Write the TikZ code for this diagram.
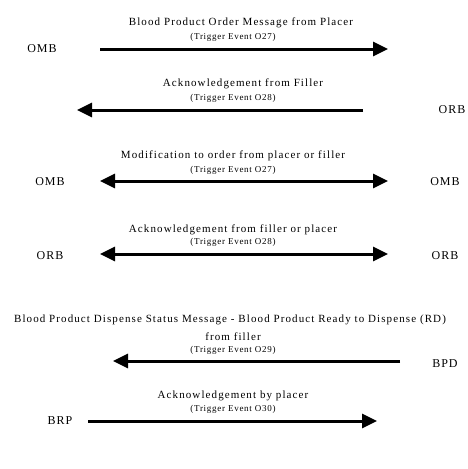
\documentclass[tikz,border=0pt]{standalone}
\usepackage{fontspec}
\setmainfont{Liberation Serif}
\usetikzlibrary{arrows.meta}
\begin{document}
\begin{tikzpicture}[x=1pt,y=-1pt,
  msg/.style={font=\fontsize{11}{12}\selectfont\addfontfeature{LetterSpace=10}, inner sep=0pt},
  trig/.style={font=\fontsize{9}{10}\selectfont\addfontfeature{LetterSpace=8}, inner sep=0pt},
  party/.style={font=\fontsize{12}{13}\selectfont\addfontfeature{LetterSpace=8}, inner sep=0pt},
  flow/.style={line width=3pt, -{Triangle[length=15pt,width=14pt]}},
  biflow/.style={line width=3pt, {Triangle[length=15pt,width=14pt]}-{Triangle[length=15pt,width=14pt]}}]
\useasboundingbox (0,0) rectangle (467,469);
% Row 1
\node[msg] (m1) at (241,23) {Blood Product Order Message from Placer};
\node[trig] (t1) at (233,37) {(Trigger Event O27)};
\node[party] (omb1) at (42,49) {OMB};
\coordinate (a1s) at (100,49);
\coordinate (a1e) at (388,49);
\draw[flow] (a1s) -- (a1e);
% Row 2
\node[msg] (m2) at (243,84) {Acknowledgement from Filler};
\node[trig] (t2) at (233,98) {(Trigger Event O28)};
\node[party] (orb2) at (452,110) {ORB};
\coordinate (a2s) at (363,110);
\coordinate (a2e) at (77,110);
\draw[flow] (a2s) -- (a2e);
% Row 3
\node[msg] (m3) at (233,156) {Modification to order from placer or filler};
\node[trig] (t3) at (233,170) {(Trigger Event O27)};
\node[party] (omb3l) at (50,182) {OMB};
\node[party] (omb3r) at (445,182) {OMB};
\coordinate (a3s) at (100,181);
\coordinate (a3e) at (388,181);
\draw[biflow] (a3s) -- (a3e);
% Row 4
\node[msg] (m4) at (233,230) {Acknowledgement from filler or placer};
\node[trig] (t4) at (233,242) {(Trigger Event O28)};
\node[party] (orb4l) at (50,256) {ORB};
\node[party] (orb4r) at (445,256) {ORB};
\coordinate (a4s) at (100,254);
\coordinate (a4e) at (388,254);
\draw[biflow] (a4s) -- (a4e);
% Row 5
\node[msg] (m5) at (230,320) {Blood Product Dispense Status Message - Blood Product Ready to Dispense (RD)};
\node[msg] (m5b) at (233,337) {from filler};
\node[trig] (t5) at (233,350) {(Trigger Event O29)};
\node[party] (bpd) at (445,364) {BPD};
\coordinate (a5s) at (400,361);
\coordinate (a5e) at (113,361);
\draw[flow] (a5s) -- (a5e);
% Row 6
\node[msg] (m6) at (233,396) {Acknowledgement by placer};
\node[trig] (t6) at (233,409) {(Trigger Event O30)};
\node[party] (brp) at (60,421) {BRP};
\coordinate (a6s) at (88,421);
\coordinate (a6e) at (377,421);
\draw[flow] (a6s) -- (a6e);
\end{tikzpicture}
\end{document}
